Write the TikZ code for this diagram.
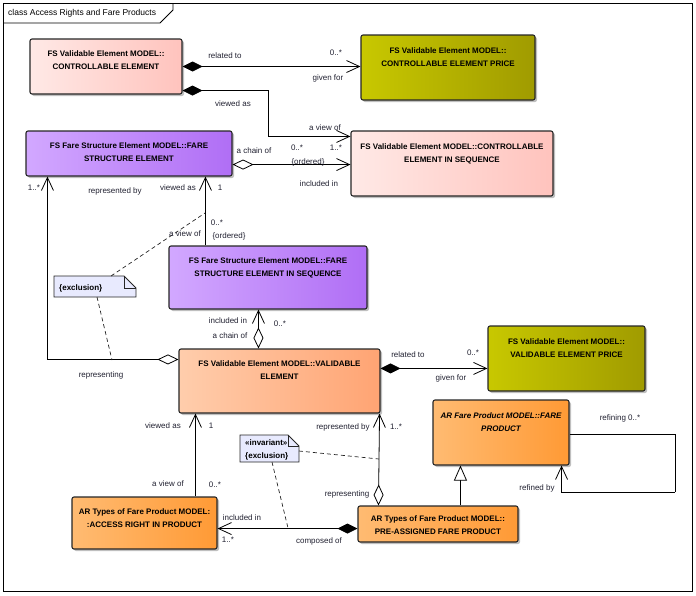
\documentclass[tikz,border=0pt]{standalone}
\usepackage{fontspec}
\setmainfont{Liberation Sans}
\usetikzlibrary{arrows.meta,calc,shadows}

\definecolor{pinkL}{HTML}{FFE9E6}
\definecolor{pinkR}{HTML}{FFC3BD}
\definecolor{oliveL}{HTML}{C8C800}
\definecolor{oliveR}{HTML}{A09B00}
\definecolor{purpL}{HTML}{D2A8FF}
\definecolor{purpR}{HTML}{B06EF5}
\definecolor{salL}{HTML}{FFCDAC}
\definecolor{salR}{HTML}{FFA473}
\definecolor{orL}{HTML}{FFBB72}
\definecolor{orR}{HTML}{FF9A35}
\definecolor{noteC}{HTML}{E8EAFE}
\definecolor{lbl}{HTML}{202030}

\tikzset{
  umlbox/.style={draw=black!85, line width=1.1pt, rounded corners=2pt, inner sep=0pt,
    drop shadow={shadow xshift=2pt, shadow yshift=-2pt, fill=black, opacity=.25}},
  pinkbox/.style={umlbox, left color=pinkL, right color=pinkR},
  olivebox/.style={umlbox, left color=oliveL, right color=oliveR},
  purpbox/.style={umlbox, left color=purpL, right color=purpR},
  salbox/.style={umlbox, left color=salL, right color=salR},
  orbox/.style={umlbox, left color=orL, right color=orR},
  boxtext/.style={font=\fontsize{8}{13.3}\selectfont\bfseries, align=center, inner sep=0pt, anchor=north, yshift=-12pt},
  lab/.style={font=\fontsize{8}{9.6}\selectfont, text=lbl, inner sep=0pt},
  notetext/.style={font=\fontsize{8}{12.5}\selectfont\bfseries, align=left, inner sep=0pt},
  noteshape/.style={fill=noteC, draw=black!85, line width=0.8pt},
  conn/.style={draw=black, line width=0.8pt},
  oarrow/.style={-{Straight Barb[length=13pt,width=12pt]}},
  fdiam/.style={{Diamond[length=20pt,width=10pt]}-{Straight Barb[length=13pt,width=12pt]}},
  odiam/.style={{Diamond[length=21pt,width=10pt,fill=white]}-{Straight Barb[length=13pt,width=12pt]}},
  gen/.style={-{Triangle[length=15pt,width=13pt,fill=white]}},
  notelink/.style={draw=black!85, line width=0.7pt, dash pattern=on 4pt off 3pt}
}

\begin{document}
\begin{tikzpicture}[x=1pt,y=-1pt]
\useasboundingbox (0,0) rectangle (696,595);
\draw[line width=0.8pt] (3,3) rectangle (692,591);
\draw[line width=0.8pt] (3,23) -- (160,23) -- (173,10) -- (173,3);
\node[anchor=west, font=\fontsize{8.5}{10}\selectfont, inner sep=0pt] (title) at (8,13) {class Access Rights and Fare Products};

% boxes
\node[pinkbox, minimum width=152pt, minimum height=55pt,
  label={[boxtext]north:{FS Validable Element MODEL::\\CONTROLLABLE ELEMENT}}] (ce) at (106,66.5) {};
\node[olivebox, minimum width=174pt, minimum height=65pt,
  label={[boxtext, yshift=-1pt]north:{FS Validable Element MODEL::\\CONTROLLABLE ELEMENT PRICE}}] (cep) at (448,67.5) {};
\node[pinkbox, minimum width=202pt, minimum height=65pt,
  label={[boxtext, yshift=-1pt]north:{FS Validable Element MODEL::CONTROLLABLE\\ELEMENT IN SEQUENCE}}] (ceis) at (452,163.5) {};
\node[purpbox, minimum width=206pt, minimum height=45pt,
  label={[boxtext]north:{FS Fare Structure Element MODEL::FARE\\STRUCTURE ELEMENT}}] (fse) at (129,153.5) {};
\node[purpbox, minimum width=198pt, minimum height=63pt,
  label={[boxtext]north:{FS Fare Structure Element MODEL::FARE\\STRUCTURE ELEMENT IN SEQUENCE}}] (fseis) at (268,277.5) {};
\node[salbox, minimum width=201pt, minimum height=64pt,
  label={[boxtext]north:{FS Validable Element MODEL::VALIDABLE\\ELEMENT}}] (ve) at (279.5,381) {};
\node[olivebox, minimum width=157pt, minimum height=65pt,
  label={[boxtext, yshift=-1pt]north:{FS Validable Element MODEL::\\VALIDABLE ELEMENT PRICE}}] (vep) at (566.5,358.5) {};
\node[orbox, minimum width=136pt, minimum height=65pt,
  label={[boxtext, yshift=-1pt, font=\fontsize{8}{13.3}\selectfont\bfseries\itshape]north:{AR Fare Product MODEL::FARE\\PRODUCT}}] (fp) at (501,432.5) {};
\node[orbox, minimum width=145pt, minimum height=52pt,
  label={[boxtext]north:{AR Types of Fare Product MODEL:\\:ACCESS RIGHT IN PRODUCT}}] (arip) at (144.5,523) {};
\node[orbox, minimum width=160pt, minimum height=36pt,
  label={[boxtext, yshift=2pt]north:{AR Types of Fare Product MODEL::\\PRE-ASSIGNED FARE PRODUCT}}] (pafp) at (438,524) {};

% notes
\node[minimum width=82pt, minimum height=21pt, inner sep=0pt, outer sep=0pt] (n1) at (95,286.5) {};
\filldraw[noteshape] (n1.south west) -- (n1.north west) -- ($(n1.north east)+(-12,0)$) -- ($(n1.north east)+(0,12)$) -- (n1.south east) -- cycle;
\draw[noteshape, fill=none] ($(n1.north east)+(-12,0)$) -- ($(n1.north east)+(-12,12)$) -- ($(n1.north east)+(0,12)$);
\node[notetext, anchor=west] (n1t) at ($(n1.west)+(5,1.5)$) {\{exclusion\}};

\node[minimum width=59pt, minimum height=27pt, inner sep=0pt, outer sep=0pt] (n2) at (269.5,448.5) {};
\filldraw[noteshape] (n2.south west) -- (n2.north west) -- ($(n2.north east)+(-11,0)$) -- ($(n2.north east)+(0,11)$) -- (n2.south east) -- cycle;
\draw[noteshape, fill=none] ($(n2.north east)+(-11,0)$) -- ($(n2.north east)+(-11,11)$) -- ($(n2.north east)+(0,11)$);
\node[notetext, anchor=north west] (n2t) at ($(n2.north west)+(5,4.5)$) {«invariant»\\\{exclusion\}};

% connector end points
\coordinate (ca) at (ce.east);
\coordinate (cb) at ($(ce.south east)+(0,-4)$);
\coordinate (cbt) at ($(ceis.north west)+(0,6)$);
\coordinate (cc) at ($(fse.south east)+(0,-12)$);
\coordinate (cg) at ($(ve.north east)+(0,20)$);
\coordinate (cj) at ($(pafp.south west)+(0,-14)$);
\coordinate (cl) at ($(fp.east)+(0,1.5)$);
\coordinate (clt) at ($(fp.south east)+(-8,0)$);
\coordinate (l1) at (675,434);
\coordinate (l2) at (675,492);

% connectors
\draw[conn, fdiam] (ca) -- (ca -| cep.west);
\draw[conn, fdiam] (cb) -- ++(86,0) |- (cbt);
\draw[conn, odiam] (cc) -- (cc -| ceis.west);
\draw[conn, oarrow] ($(fseis.north west)+(37,0)$) -- ($(fse.south west)+(180,0)$);
\draw[conn, odiam] ($(ve.north west)+(0,11)$) -| ($(fse.south west)+(22,0)$);
\draw[conn, odiam] ($(ve.north west)+(80,0)$) -- ($(fseis.south west)+(90,0)$);
\draw[conn, fdiam] (cg) -- (cg -| vep.west);
\draw[conn, oarrow] ($(arip.north west)+(124,0)$) -- ($(ve.south west)+(17,0)$);
\draw[conn, odiam] ($(pafp.north west)+(21,0)$) -- ($(ve.south east)+(-1,0)$);
\draw[conn, fdiam] (cj) -- (cj -| arip.east);
\draw[conn, gen] ($(pafp.north west)+(103,0)$) -- ($(fp.south west)+(28,0)$);
\draw[conn] (cl) -- (cl -| l1) -- (l2);
\draw[conn, oarrow] (l2) -| (clt);

% note links
\coordinate (d1) at (205,213);
\coordinate (d2) at (112,360);
\coordinate (d3) at (379,459);
\coordinate (d4) at (288,528);
\draw[notelink] ($(n1.north west)+(57,0)$) -- (d1);
\draw[notelink] ($(n1.south west)+(43,0)$) -- (d2);
\draw[notelink] ($(n2.north east)+(0,16)$) -- (d3);
\draw[notelink] ($(n2.south west)+(32,0)$) -- (d4);

% labels
\node[lab] (la1) at (225,56) {related to};
\node[lab] (la2) at (336,53) {0..*};
\node[lab] (la3) at (328,78) {given for};
\node[lab] (lb1) at (233,104) {viewed as};
\node[lab] (lb2) at (325,128) {a view of};
\node[lab] (lc1) at (254,151) {a chain of};
\node[lab] (lc2) at (297,148) {0..*};
\node[lab] (lc3) at (308,162) {\{ordered\}};
\node[lab] (lc4) at (336,148) {1..*};
\node[lab] (lc5) at (319,184) {included in};
\node[lab] (ld1) at (178,188) {viewed as};
\node[lab] (ld2) at (220,188) {1};
\node[lab] (ld3) at (217,223) {0..*};
\node[lab] (ld4) at (229,236) {\{ordered\}};
\node[lab] (ld5) at (185,234) {a view of};
\node[lab] (le1) at (34,188) {1..*};
\node[lab] (le2) at (115,191) {represented by};
\node[lab] (le3) at (101,375) {representing};
\node[lab] (lf1) at (228,321) {included in};
\node[lab] (lf2) at (230,336) {a chain of};
\node[lab] (lf3) at (280,324) {0..*};
\node[lab] (lg1) at (408,355) {related to};
\node[lab] (lg2) at (473,353) {0..*};
\node[lab] (lg3) at (451,378) {given for};
\node[lab] (lh1) at (163,426) {viewed as};
\node[lab] (lh2) at (211,426) {1};
\node[lab] (lh3) at (168,484) {a view of};
\node[lab] (lh4) at (215,485) {0..*};
\node[lab] (li1) at (343,427) {represented by};
\node[lab] (li2) at (396,427) {1..*};
\node[lab] (li3) at (347,494) {representing};
\node[lab] (lj1) at (242,518) {included in};
\node[lab] (lj2) at (228,540) {1..*};
\node[lab] (lj3) at (319,541) {composed of};
\node[lab] (ll1) at (620,418) {refining 0..*};
\node[lab] (ll2) at (537,488) {refined by};
\end{tikzpicture}
\end{document}
